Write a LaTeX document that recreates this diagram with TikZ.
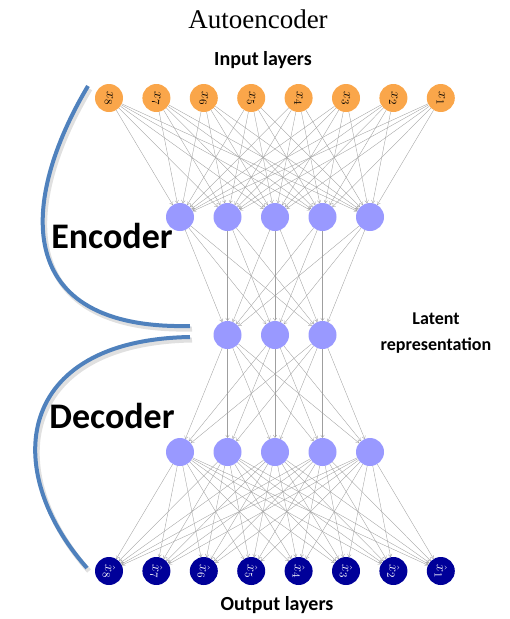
\documentclass[tikz,border=0pt]{standalone}
\usepackage{fontspec}
\newfontfamily\titlefont{Liberation Serif}
\newfontfamily\labelfont{Carlito}
\usetikzlibrary{arrows.meta}
\definecolor{inorange}{RGB}{250,166,74}
\definecolor{hidblue}{RGB}{153,153,255}
\definecolor{outnavy}{RGB}{0,0,153}
\definecolor{bracketblue}{RGB}{79,129,189}

\begin{document}
\begin{tikzpicture}[x=1pt, y=-1pt,
  neuron/.style={circle, minimum size=28pt, inner sep=0pt},
  innode/.style={neuron, fill=inorange, rotate=-90, font=\fontsize{15}{15}\selectfont},
  hidnode/.style={neuron, fill=hidblue},
  outnode/.style={neuron, fill=outnavy, text=white, rotate=-90, font=\fontsize{15}{15}\selectfont},
  link/.style={-{To[length=3pt,width=4pt]}, draw=gray!75, line width=0.35pt},
  bracket/.style={draw=bracketblue, line width=4pt},
  bshadow/.style={draw=black, opacity=0.12, line width=5pt},
  caption/.style={font=\labelfont\bfseries\fontsize{20}{20}\selectfont}
]
\useasboundingbox (0,0) rectangle (510,619);

% Titles
\node[font=\titlefont\fontsize{27}{27}\selectfont] (title) at (258,19) {Autoencoder};
\node[caption] (inlbl) at (263,60) {Input layers};
\node[caption] (outlbl) at (277,605) {Output layers};
\node[font=\labelfont\bfseries\fontsize{36}{36}\selectfont] (enclbl) at (112,236) {Encoder};
\node[font=\labelfont\bfseries\fontsize{36}{36}\selectfont] (declbl) at (112,416) {Decoder};
\node[font=\labelfont\bfseries\fontsize{18}{26}\selectfont, align=center] (latlbl) at (436,333) {Latent\\representation};

% Layers
\foreach \i in {1,...,8}
  \node[innode] (in\i) at ({440.8-47.4*(\i-1)},98) {$x_{\i}$};
\foreach \j in {1,...,5}
  \node[hidnode] (h\j) at ({180+47.5*(\j-1)},217) {};
\foreach \k in {1,...,3}
  \node[hidnode] (z\k) at ({227.5+47.5*(\k-1)},335) {};
\foreach \j in {1,...,5}
  \node[hidnode] (d\j) at ({180+47.5*(\j-1)},452) {};
\foreach \i in {1,...,8}
  \node[outnode] (out\i) at ({440.8-47.4*(\i-1)},571) {$\hat{x}_{\i}$};

% Connections
\foreach \i in {1,...,8}
  \foreach \j in {1,...,5}
    \draw[link] (in\i) -- (h\j);
\foreach \j in {1,...,5}
  \foreach \k in {1,...,3}
    \draw[link] (h\j) -- (z\k);
\foreach \k in {1,...,3}
  \foreach \j in {1,...,5}
    \draw[link] (z\k) -- (d\j);
\foreach \j in {1,...,5}
  \foreach \i in {1,...,8}
    \draw[link] (d\j) -- (out\i);

% Brackets
\coordinate (enctop) at (88,86);
\coordinate (encend) at (190,326);
\coordinate (decstart) at (190,337);
\coordinate (decend) at (87,568);
\draw[bshadow] ([shift={(2,3)}]enctop) .. controls (22,203) and (12,333) .. ([shift={(2,3)}]encend);
\draw[bshadow] ([shift={(2,3)}]decstart) .. controls (17,343) and (2,473) .. ([shift={(2,3)}]decend);
\draw[bracket] (enctop) .. controls (20,200) and (10,330) .. (encend);
\draw[bracket] (decstart) .. controls (15,340) and (0,470) .. (decend);
\end{tikzpicture}
\end{document}
